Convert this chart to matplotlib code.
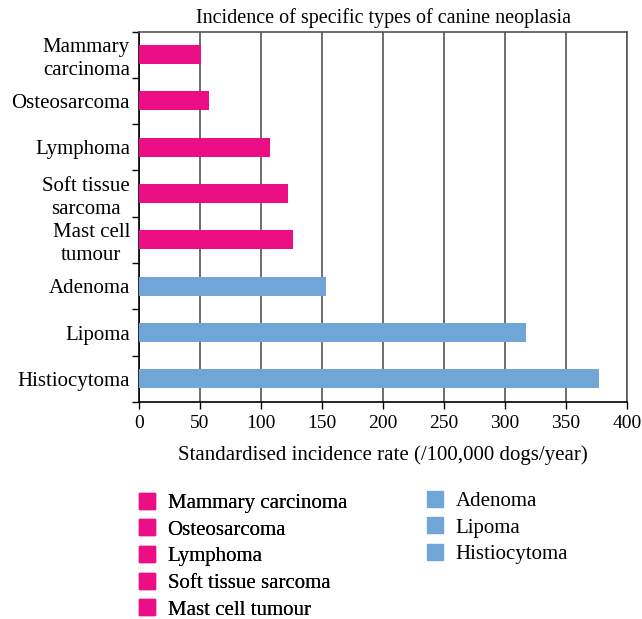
import matplotlib
matplotlib.use("Agg")
import matplotlib.pyplot as plt
from matplotlib.lines import Line2D

plt.rcParams['font.family'] = ['Liberation Serif', 'DejaVu Serif']

categories = ["Mammary\ncarcinoma", "Osteosarcoma", "Lymphoma", "Soft tissue\nsarcoma",
              "Mast cell\ntumour", "Adenoma", "Lipoma", "Histiocytoma"]
values = [51, 57, 107, 122, 126, 153, 317, 377]
groups = ["malignant"] * 5 + ["benign"] * 3
legend_left = ["Mammary carcinoma", "Osteosarcoma", "Lymphoma", "Soft tissue sarcoma", "Mast cell tumour"]
legend_right = ["Adenoma", "Lipoma", "Histiocytoma"]
xticks = [0, 50, 100, 150, 200, 250, 300, 350, 400]

PINK = "#EC0E85"
BLUE = "#70A5D8"
colors = [PINK if g == "malignant" else BLUE for g in groups]

FS = 15

fig = plt.figure(figsize=(6.42, 6.19), dpi=100)
ax = fig.add_axes([139/642, 1 - 402/619, (627-139)/642, (402-31.5)/619])

ypos = list(range(len(categories)))
ax.barh(ypos, values, height=0.41, color=colors, zorder=3)
ax.set_ylim(len(categories) - 0.5, -0.5)
ax.set_xlim(0, 400)
ax.set_xticks(xticks)
ax.set_xticklabels([str(t) for t in xticks], fontsize=14)
ax.set_yticks(ypos)
ax.set_yticklabels(categories, fontsize=FS, ha='right', multialignment='center',
                   linespacing=1.25)
ax.tick_params(axis='y', length=0, pad=6.5)
ax.set_yticks([i - 0.5 for i in range(len(categories) + 1)], minor=True)
ax.tick_params(axis='y', which='minor', length=5, width=1, direction='out')
ax.tick_params(axis='x', length=5, width=1, direction='out', pad=4)
ax.grid(axis='x', color='#555555', linewidth=1.2, zorder=1)
for s in ['top', 'right']:
    ax.spines[s].set_color('#555555')
    ax.spines[s].set_linewidth(1.2)
for s in ['left', 'bottom']:
    ax.spines[s].set_color('black')
    ax.spines[s].set_linewidth(1.2)

ax.set_title("Incidence of specific types of canine neoplasia", fontsize=14.5, pad=6)
ax.set_xlabel("Standardised incidence rate (/100,000 dogs/year)", fontsize=FS, labelpad=10)

def handles(labels, color):
    return [Line2D([0], [0], marker='s', linestyle='none', markersize=12,
                   markerfacecolor=color, markeredgecolor=color) for _ in labels]

leg1 = fig.legend(handles(legend_left, PINK), legend_left, loc='upper left',
                  bbox_to_anchor=(128/642, 1 - 485/619), frameon=False, fontsize=FS,
                  handlelength=1.0, handletextpad=0.5, labelspacing=0.34, borderaxespad=0)
leg2 = fig.legend(handles(legend_right, BLUE), legend_right, loc='upper left',
                  bbox_to_anchor=(416/642, 1 - 483/619), frameon=False, fontsize=FS,
                  handlelength=1.0, handletextpad=0.5, labelspacing=0.34, borderaxespad=0)
fig.add_artist(leg1)

fig.savefig("out.png", dpi=100)
